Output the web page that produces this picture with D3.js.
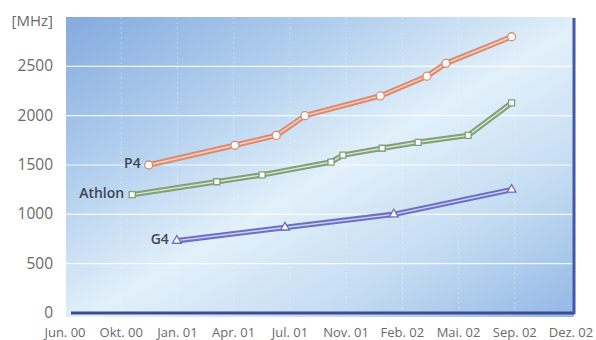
<!DOCTYPE html>
<html>
<head>
<meta charset="utf-8">
<script src="https://cdn.jsdelivr.net/npm/d3@7"></script>
<style>
  html, body { margin: 0; padding: 0; background: #ffffff; }
  svg { display: block; }
</style>
</head>
<body>
<div id="chart"></div>
<script>
// ---------- data ----------
const xLabels = ["Jun. 00", "Okt. 00", "Jan. 01", "Apr. 01", "Jul. 01", "Nov. 01", "Feb. 02", "Mai. 02", "Sep. 02", "Dez. 02"];
const xLabelDates = ["2000-06-01", "2000-10-01", "2001-01-01", "2001-04-01", "2001-07-01", "2001-11-01", "2002-02-01", "2002-05-01", "2002-09-01", "2002-12-01"];
const yTicks = [0, 500, 1000, 1500, 2000, 2500];
const yUnit = "[MHz]";
const seriesNames = ["P4", "Athlon", "G4"];

const p4Dates   = ["2000-11-15", "2001-04-03", "2001-06-09", "2001-08-03", "2001-12-27", "2002-03-12", "2002-04-11", "2002-08-25"];
const p4Values  = [1500, 1700, 1800, 2000, 2200, 2400, 2530, 2800];

const athlonDates  = ["2000-10-19", "2001-03-05", "2001-05-17", "2001-09-29", "2001-10-25", "2001-12-30", "2002-02-26", "2002-05-22", "2002-08-25"];
const athlonValues = [1200, 1330, 1400, 1530, 1600, 1670, 1730, 1800, 2130];

const g4Dates  = ["2000-12-31", "2001-06-23", "2002-01-18", "2002-08-25"];
const g4Values = [733, 867, 1000, 1250];

// ---------- layout ----------
const W = 596, H = 340;
const plot = { left: 66, right: 574, top: 17, bottom: 313 };
const labelSpan = [65, 571];

const parse = d3.timeParse("%Y-%m-%d");
const idx = d3.scaleLinear().domain([0, xLabels.length - 1]).range(labelSpan);
const x = d3.scaleTime()
  .domain(xLabelDates.map(parse))
  .range(xLabelDates.map((d, i) => idx(i)));
const y = d3.scaleLinear().domain([0, 3000]).range([plot.bottom, plot.top]);

const svg = d3.select("#chart").append("svg")
  .attr("width", W).attr("height", H);

const defs = svg.append("defs");
const grad = defs.append("linearGradient").attr("id", "bg")
  .attr("x1", "0").attr("y1", "0").attr("x2", "1").attr("y2", "1");
grad.append("stop").attr("offset", "0%").attr("stop-color", "#84abdf");
grad.append("stop").attr("offset", "28%").attr("stop-color", "#b2cfee");
grad.append("stop").attr("offset", "52%").attr("stop-color", "#e2f0fa");
grad.append("stop").attr("offset", "76%").attr("stop-color", "#c3dbf2");
grad.append("stop").attr("offset", "100%").attr("stop-color", "#92b8e6");

// plot background
svg.append("rect")
  .attr("x", plot.left).attr("y", plot.top)
  .attr("width", plot.right - plot.left).attr("height", plot.bottom - plot.top + 4)
  .attr("fill", "url(#bg)");

// vertical faint dashed grid
svg.append("g").selectAll("line")
  .data(xLabelDates.slice(1, -1))
  .join("line")
  .attr("x1", d => x(parse(d))).attr("x2", d => x(parse(d)))
  .attr("y1", plot.top).attr("y2", plot.bottom)
  .attr("stroke", "#ffffff").attr("stroke-opacity", 0.35)
  .attr("stroke-width", 1).attr("stroke-dasharray", "2,3");

// horizontal grid
svg.append("g").selectAll("line")
  .data(yTicks.filter(v => v > 0))
  .join("line")
  .attr("x1", plot.left).attr("x2", plot.right)
  .attr("y1", d => y(d)).attr("y2", d => y(d))
  .attr("stroke", "#ffffff").attr("stroke-opacity", 0.85).attr("stroke-width", 1.2);

// axes lines
svg.append("line")
  .attr("x1", plot.left + 5).attr("x2", plot.right + 1)
  .attr("y1", y(0)).attr("y2", y(0))
  .attr("stroke", "#3d4b93").attr("stroke-width", 3);
svg.append("line")
  .attr("x1", plot.right).attr("x2", plot.right)
  .attr("y1", plot.top + 1).attr("y2", y(0) + 1)
  .attr("stroke", "#4656a8").attr("stroke-width", 3);

// y tick labels
const font = "'Open Sans', 'Noto Sans', sans-serif";
svg.append("g").selectAll("text")
  .data(yTicks)
  .join("text")
  .attr("x", 53).attr("y", d => y(d) + 5)
  .attr("text-anchor", "end")
  .attr("font-family", font).attr("font-size", 15.5)
  .attr("fill", "#6a6a6a")
  .text(d => d);
svg.append("text")
  .attr("x", 53).attr("y", y(3000) + 9)
  .attr("text-anchor", "end")
  .attr("font-family", font).attr("font-size", 15)
  .attr("fill", "#6a6a6a")
  .text(yUnit);

// x tick labels
svg.append("g").selectAll("text")
  .data(xLabels)
  .join("text")
  .attr("x", (d, i) => x(parse(xLabelDates[i])))
  .attr("y", 336.5)
  .attr("text-anchor", "middle")
  .attr("font-family", font).attr("font-size", 13)
  .attr("fill", "#6a6a6a")
  .text(d => d);

// series
const series = [
  { name: seriesNames[0], dates: p4Dates, values: p4Values, outer: "#db8b70", inner: "#f8d2c2", marker: "circle" },
  { name: seriesNames[1], dates: athlonDates, values: athlonValues, outer: "#809f7a", inner: "#d6e6cc", marker: "square" },
  { name: seriesNames[2], dates: g4Dates, values: g4Values, outer: "#6c70c2", inner: "#cfd2f3", marker: "triangle" }
];

const line = d3.line()
  .x(d => x(d.date)).y(d => y(d.value));

series.forEach(s => {
  const pts = s.dates.map((d, i) => ({ date: parse(d), value: s.values[i] }));
  const g = svg.append("g");
  g.append("path").datum(pts).attr("d", line)
    .attr("fill", "none").attr("stroke", s.outer).attr("stroke-width", 5.5)
    .attr("stroke-linejoin", "round");
  g.append("path").datum(pts).attr("d", line)
    .attr("fill", "none").attr("stroke", s.inner).attr("stroke-width", 1.4)
    .attr("stroke-linejoin", "round");

  let sym;
  if (s.marker === "circle") sym = d3.symbol(d3.symbolCircle, 50);
  else if (s.marker === "square") sym = d3.symbol(d3.symbolSquare, 36);
  else sym = d3.symbol(d3.symbolTriangle, 34);

  g.selectAll("path.m").data(pts).join("path")
    .attr("class", "m")
    .attr("d", sym)
    .attr("transform", d => `translate(${x(d.date)},${y(d.value)})`)
    .attr("fill", "#ffffff").attr("stroke", s.outer).attr("stroke-width", 1.3);

  g.append("text")
    .attr("x", x(pts[0].date) - 8).attr("y", y(pts[0].value) - 2)
    .attr("dy", "0.35em")
    .attr("text-anchor", "end")
    .attr("font-family", font).attr("font-size", 14).attr("font-weight", 600)
    .attr("fill", "#404656")
    .text(s.name);
});
</script>
</body>
</html>
